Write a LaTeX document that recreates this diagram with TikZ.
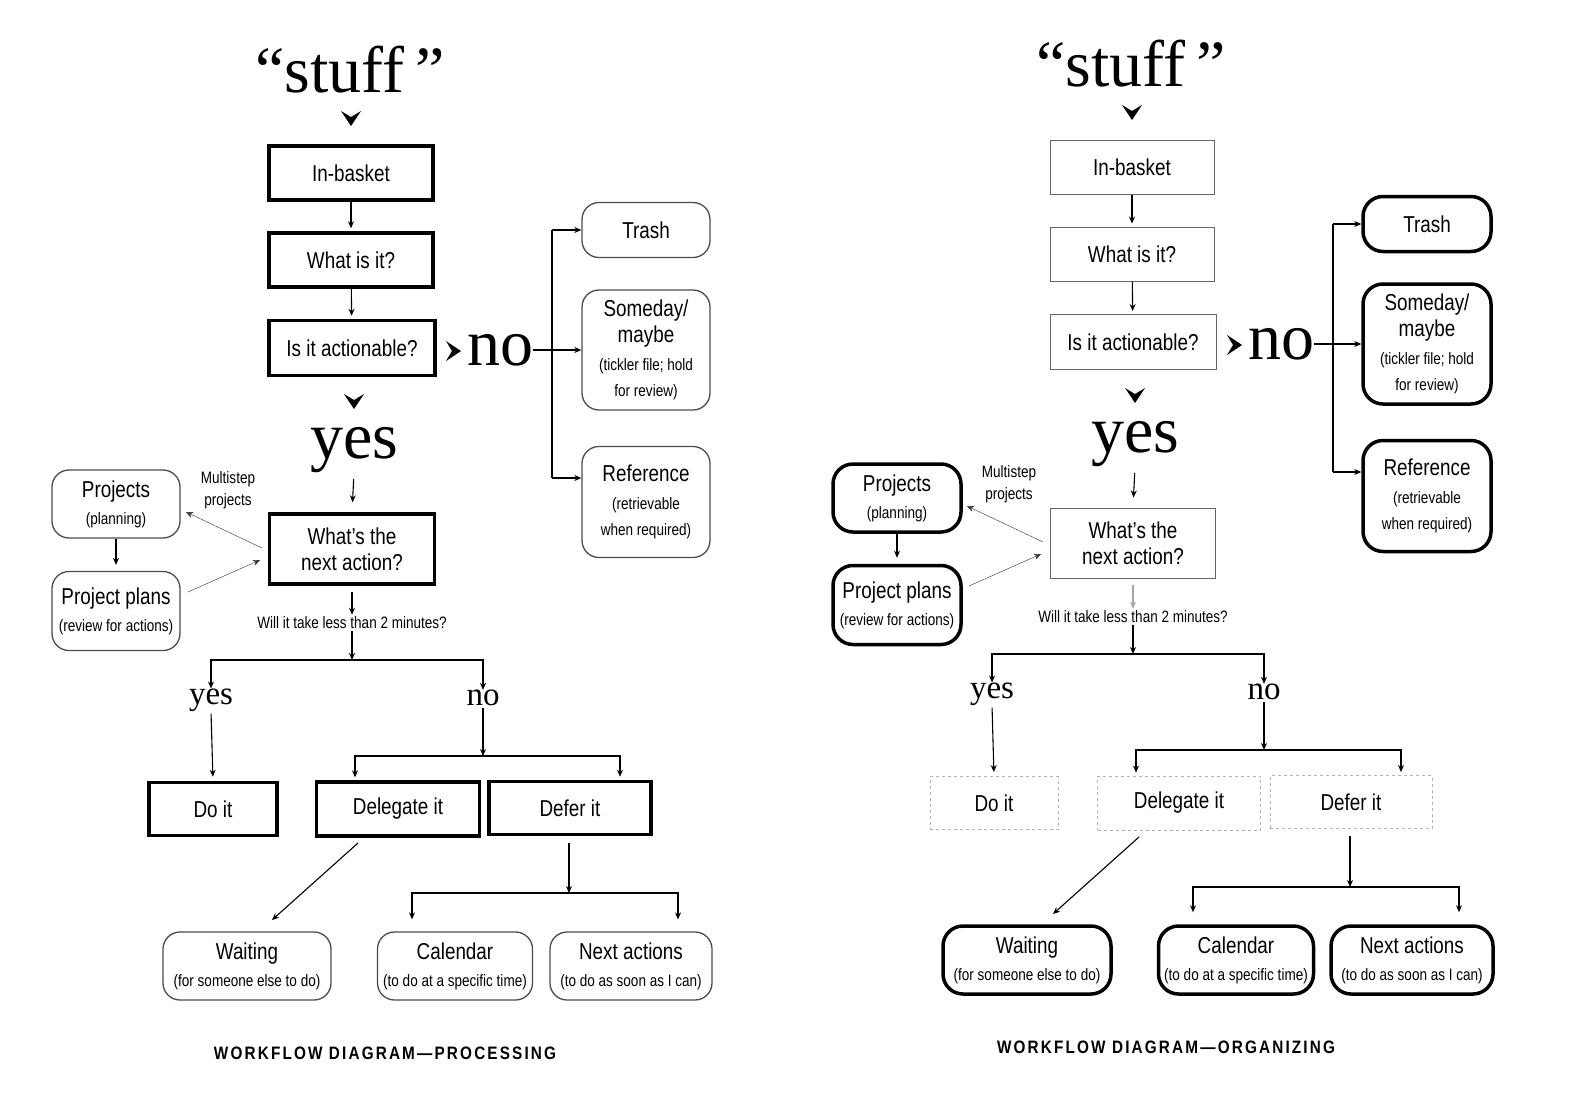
\documentclass[tikz,border=0pt]{standalone}
\usepackage{fontspec}
\setmainfont{Liberation Serif}
\newfontfamily\cond[FakeStretch=0.82]{Liberation Sans}
\newfontfamily\capfont[FakeStretch=0.85,LetterSpace=12]{Liberation Sans Bold}
\usetikzlibrary{arrows.meta}

\newcommand\subt{\fontsize{16.5}{21}\selectfont}
\tikzset{
  lbl/.style={font=\cond\fontsize{23}{26}\selectfont, align=center, inner sep=2pt},
  smallt/.style={font=\cond\fontsize{16.5}{22}\selectfont, align=center, inner sep=1pt},
  big/.style={font=\fontsize{66}{70}\selectfont, inner sep=0pt},
  mid/.style={font=\fontsize{33}{36}\selectfont, inner sep=0pt},
  arr/.style={-{Stealth[length=7pt,width=6pt]}, line width=1.1pt},
  arrb/.style={{Stealth[length=7pt,width=6pt]}-{Stealth[length=7pt,width=6pt]}, line width=1.1pt},
  ln/.style={line width=1.1pt},
  chevd/.pic={\fill (-10,-7) -- (0,8) -- (10,-7) -- (0,-1) -- cycle;},
  chevr/.pic={\fill (-8,-10) -- (7,0) -- (-8,10) -- (-2,0) -- cycle;},
}

\newcommand\gtdflow[5]{%
  % #1 prefix, #2 caption, #3 waiting x, #4 waiting width, #5 colour of the arrow below the next-action box
  \node[big] (#1stuff) at (350,70) {“stuff\,”};
  \pic at (351,118) {chevd};
  \node[sq, lbl, minimum width=164pt, minimum height=54pt] (#1inb) at (351,173) {In-basket};
  \node[sq, lbl, minimum width=164pt, minimum height=54pt] (#1what) at (351,260) {What is it?};
  \node[sq, lbl, minimum width=166pt, minimum height=55pt] (#1act) at (352,348) {Is it actionable?};
  \draw[arr, shorten >=3pt] (#1inb) -- (#1what);
  \draw[arr, shorten >=3pt] (#1what) -- (#1act);
  \pic at (454,351) {chevr};
  \node[big, anchor=west] (#1no) at (467,350) {no};
  \node[rd, lbl, minimum width=128pt, minimum height=55pt] (#1trash) at (646,230) {Trash};
  \node[rd, lbl, minimum width=128pt, minimum height=120pt] (#1some) at (646,350)
     {Someday/\\maybe\\[2pt]{\subt (tickler file; hold}\\{\subt for review)}};
  \node[rd, lbl, minimum width=128pt, minimum height=111pt] (#1ref) at (646,502)
     {Reference\\[2pt]{\subt (retrievable}\\{\subt when required)}};
  \coordinate (#1vt) at (552,230);
  \coordinate (#1vm) at (552,350);
  \coordinate (#1vb) at (552,478);
  \draw[ln] (#1no.east |- #1vm) -- (#1vm);
  \draw[ln] (#1vt) -- (#1vb);
  \draw[arr] (#1vt) -- (#1trash.west |- #1vt);
  \draw[arr] (#1vm) -- (#1some.west |- #1vm);
  \draw[arr] (#1vb) -- (#1ref.west |- #1vb);
  \pic at (354,401) {chevd};
  \node[big] (#1yes) at (354,450) {yes};
  \node[sq, lbl, minimum width=165pt, minimum height=70pt] (#1next) at (352,549) {What’s the\\next action?};
  \draw[arr, shorten <=6pt, shorten >=10pt] (#1yes.south) -- (#1next.north);
  \node[rd, lbl, minimum width=128pt, minimum height=68pt] (#1proj) at (116,504)
     {Projects\\[1pt]{\subt (planning)}};
  \node[rd, lbl, minimum width=128pt, minimum height=79pt] (#1plans) at (116,611)
     {Project plans\\[1pt]{\subt (review for actions)}};
  \node[smallt] (#1multi) at (228,490) {Multistep\\projects};
  \draw[arr, shorten >=6pt] (#1proj) -- (#1plans);
  \coordinate (#1p1) at (262,548);
  \coordinate (#1p2) at (186,512);
  \coordinate (#1p3) at (188,592);
  \coordinate (#1p4) at (260,560);
  \draw[arr, thin, black!80] (#1p1) -- (#1p2);
  \draw[arr, thin, black!80] (#1p3) -- (#1p4);
  \node[smallt] (#1q) at (352,623) {Will it take less than 2 minutes?};
  \draw[arr, draw=#5, shorten <=6pt, shorten >=1pt] (#1next.south) -- (#1q.north);
  \coordinate (#1qs) at (352,660);
  \draw[arr, shorten <=1pt] (#1q.south) -- (#1qs);
  \node[mid] (#1yes2) at (211,700) {yes};
  \node[mid] (#1no2) at (483,698) {no};
  \draw[arrb] (#1yes2.north) |- (#1qs) -| (#1no2.north);
  \node[sqb, lbl, minimum width=128pt, minimum height=53pt] (#1doit) at (213,809) {Do it};
  \node[sqb, lbl, minimum width=163pt, minimum height=54pt] (#1deleg) at (398,809) {Delegate it};
  \node[sqb, lbl, minimum width=162pt, minimum height=53pt] (#1defer) at (570,808) {Defer it};
  \draw[arr, shorten <=2pt, shorten >=4pt] (#1yes2.south) -- (#1doit.north);
  \coordinate (#1ns) at (483,756);
  \draw[arr, shorten <=2pt] (#1no2.south) -- (#1ns);
  \draw[arrb, shorten <=3pt, shorten >=3pt] ([xshift=-43pt]#1deleg.north) |- (#1ns) -| ([xshift=50pt]#1defer.north);
  \node[rd, lbl, minimum width=#4pt, minimum height=68pt] (#1wait) at (#3,966)
     {Waiting\\[1pt]{\subt (for someone else to do)}};
  \node[rd, lbl, minimum width=155pt, minimum height=68pt] (#1cal) at (455,966)
     {Calendar\\[1pt]{\subt (to do at a specific time)}};
  \node[rd, lbl, minimum width=162pt, minimum height=68pt] (#1nexta) at (631,966)
     {Next actions\\[1pt]{\subt (to do as soon as I can)}};
  \coordinate (#1d1) at (358,843);
  \coordinate (#1d2) at (272,920);
  \draw[arr] (#1d1) -- (#1d2);
  \coordinate (#1fs) at (569,893);
  \draw[arr, shorten <=7pt] (#1defer.south -| #1fs) -- (#1fs);
  \draw[arrb, shorten <=12pt, shorten >=12pt] ([xshift=-43pt]#1cal.north) |- (#1fs) -| ([xshift=47pt]#1nexta.north);
  \node[font=\capfont\fontsize{18}{20}\selectfont, inner sep=0pt] (#1cap) at (385,1053) {#2};
}

\begin{document}
\begin{tikzpicture}[x=1pt,y=-1pt]
\useasboundingbox[fill=white] (0,0) rectangle (1580,1112);
\begin{scope}[
  sq/.style={draw, line width=3.5pt},
  sqb/.style={draw, line width=3.5pt},
  rd/.style={draw=black!70, line width=1.3pt, rounded corners=17pt}]
  \gtdflow{L}{WORKFLOW DIAGRAM—PROCESSING}{247}{168}{black}
\end{scope}
\begin{scope}[shift={(781,-6)},
  sq/.style={draw=black!60, line width=1pt},
  sqb/.style={draw=black!30, dashed, line width=0.9pt},
  rd/.style={draw, line width=3.5pt, rounded corners=20pt}]
  \gtdflow{R}{WORKFLOW DIAGRAM—ORGANIZING}{246}{168}{black!35}
\end{scope}
\end{tikzpicture}
\end{document}
